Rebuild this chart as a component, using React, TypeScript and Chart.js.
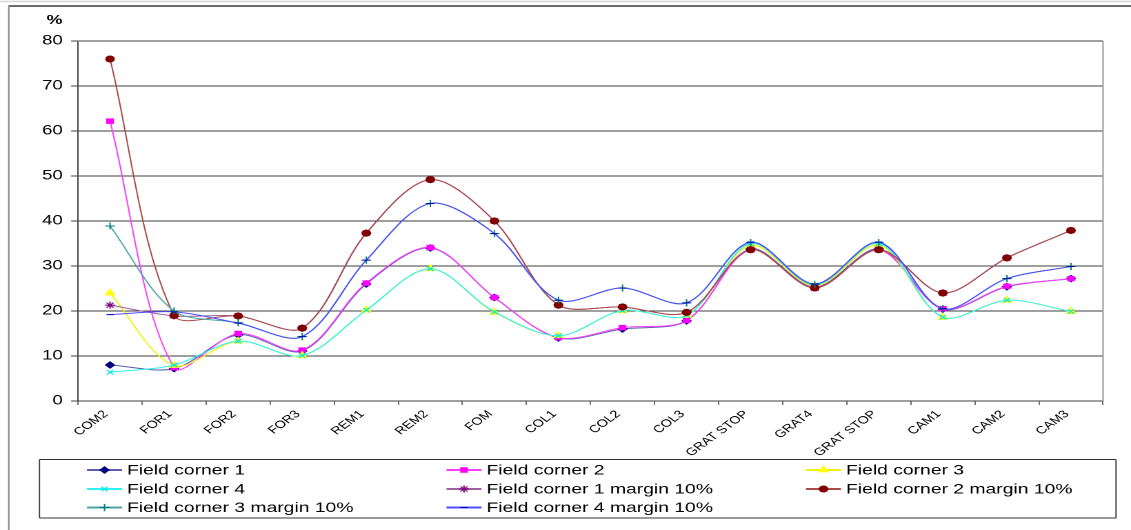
import React, { useEffect, useRef } from 'react';
import { Chart, registerables } from 'chart.js';
import { drawPoint } from 'chart.js/helpers';

Chart.register(...registerables);

// ---------------- data ----------------
const categories = ['COM2', 'FOR1', 'FOR2', 'FOR3', 'REM1', 'REM2', 'FOM', 'COL1', 'COL2', 'COL3', 'GRAT STOP', 'GRAT4', 'GRAT STOP', 'CAM1', 'CAM2', 'CAM3'];

const fieldCorner1 = [8.0, 7.2, 14.7, 11.1, 26.0, 34.0, 23.0, 14.0, 16.0, 17.8, 33.8, 25.3, 33.8, 20.4, 25.4, 27.2];
const fieldCorner2 = [62.2, 7.4, 15.0, 11.3, 26.2, 34.1, 23.0, 14.1, 16.3, 17.9, 33.6, 25.1, 33.6, 20.5, 25.5, 27.2];
const fieldCorner3 = [24.0, 7.9, 13.3, 10.1, 20.2, 29.4, 19.7, 14.5, 20.1, 19.0, 34.6, 25.6, 34.6, 18.6, 22.4, 19.9];
const fieldCorner4 = [6.4, 8.0, 13.3, 10.1, 20.2, 29.4, 19.8, 14.5, 20.1, 19.0, 35.0, 25.8, 35.0, 18.6, 22.4, 19.9];
const fieldCorner1Margin = [21.3, 18.9, 18.9, 16.2, 37.3, 49.2, 40.0, 21.3, 20.9, 19.7, 33.7, 25.2, 33.7, 24.0, 31.8, 37.9];
const fieldCorner2Margin = [76.0, 19.0, 18.9, 16.2, 37.3, 49.2, 40.0, 21.3, 20.9, 19.7, 33.6, 25.1, 33.6, 24.0, 31.8, 37.9];
const fieldCorner3Margin = [38.9, 20.0, 17.4, 14.3, 31.3, 43.9, 37.2, 22.4, 25.1, 21.8, 35.2, 25.9, 35.2, 20.5, 27.2, 29.9];
const fieldCorner4Margin = [19.2, 19.8, 17.3, 14.3, 31.3, 43.9, 37.2, 22.4, 25.1, 21.8, 35.3, 26.0, 35.3, 20.5, 27.2, 29.9];

const seriesLabels = [
  'Field corner 1', 'Field corner 2', 'Field corner 3',
  'Field corner 4', 'Field corner 1 margin 10%', 'Field corner 2 margin 10%',
  'Field corner 3 margin 10%', 'Field corner 4 margin 10%',
];
const seriesValues = [
  fieldCorner1, fieldCorner2, fieldCorner3, fieldCorner4,
  fieldCorner1Margin, fieldCorner2Margin, fieldCorner3Margin, fieldCorner4Margin,
];

const yMin = 0;
const yMax = 80;
const yStep = 10;
const yUnit = '%';

// ---------------- styles ----------------
const seriesStyles = [
  { line: '#5c5cae', mark: '#000080', style: 'rectRot', r: 3.2 },
  { line: '#ff3cff', mark: '#ff00ff', style: 'rect', r: 3.2 },
  { line: '#f2f200', mark: '#ffff00', style: 'triangle', r: 3.8 },
  { line: '#2ef2f2', mark: '#00e8e8', style: 'crossRot', r: 3.2 },
  { line: '#a060a0', mark: '#800080', style: 'star', r: 3.6 },
  { line: '#a84a4a', mark: '#800000', style: 'circle', r: 3 },
  { line: '#4aa6a6', mark: '#008080', style: 'cross', r: 3.6 },
  { line: '#4d4dff', mark: '#0000a0', style: 'line', r: 2.6 },
];

const W = 820;
const H = 530;
const CSSW = 1131;
const S = CSSW / W; // horizontal stretch of the whole picture
const FONT = '"Liberation Sans", Arial, Helvetica, sans-serif';

const PLOT_LEFT = 78 / S;
const PLOT_RIGHT = 1103 / S;
const PLOT_TOP = 41;
const PLOT_BOTTOM = 401;

const decorPlugin = {
  id: 'decor',
  beforeDraw(chart: any) {
    const ctx = chart.ctx as CanvasRenderingContext2D;
    ctx.save();
    ctx.fillStyle = '#ffffff';
    ctx.fillRect(0, 0, chart.width, chart.height);
    // outer frame lines
    ctx.strokeStyle = '#d6d6d6';
    ctx.lineWidth = 1.5;
    ctx.beginPath();
    ctx.moveTo(0, 1.5);
    ctx.lineTo(chart.width, 1.5);
    ctx.stroke();
    ctx.strokeStyle = '#3a3a3a';
    ctx.lineWidth = 1.5;
    ctx.beginPath();
    ctx.moveTo(8.5 / S, 6);
    ctx.lineTo(chart.width, 6);
    ctx.stroke();
    ctx.strokeStyle = '#8a8a8a';
    ctx.lineWidth = 1.5 / S;
    ctx.beginPath();
    ctx.moveTo(8.8 / S, 6);
    ctx.lineTo(8.8 / S, chart.height);
    ctx.stroke();
    ctx.restore();
  },
  beforeDatasetsDraw(chart: any) {
    const ctx = chart.ctx as CanvasRenderingContext2D;
    const a = chart.chartArea;
    ctx.save();
    ctx.strokeStyle = '#a0a0a0';
    ctx.lineWidth = 1;
    ctx.beginPath();
    ctx.moveTo(a.left, a.top + 0.5);
    ctx.lineTo(a.right, a.top + 0.5);
    ctx.stroke();
    ctx.lineWidth = 1.5 / S;
    ctx.beginPath();
    ctx.moveTo(a.right, a.top);
    ctx.lineTo(a.right, a.bottom);
    ctx.stroke();
    ctx.restore();
  },
  afterDraw(chart: any) {
    const ctx = chart.ctx as CanvasRenderingContext2D;
    ctx.save();
    // unit label
    ctx.fillStyle = '#000';
    ctx.font = `bold 13px ${FONT}`;
    ctx.textAlign = 'center';
    ctx.textBaseline = 'middle';
    ctx.fillText(yUnit, 54.5 / S, 20.5);

    // legend box
    const bx0 = 39.5 / S, bx1 = 1116 / S, by0 = 459.5, by1 = 518;
    ctx.strokeStyle = '#333';
    ctx.lineWidth = 1;
    ctx.beginPath();
    ctx.moveTo(bx0, by0); ctx.lineTo(bx1, by0);
    ctx.moveTo(bx0, by1); ctx.lineTo(bx1, by1);
    ctx.stroke();
    ctx.lineWidth = 1.2 / S;
    ctx.beginPath();
    ctx.moveTo(bx0, by0); ctx.lineTo(bx0, by1);
    ctx.moveTo(bx1, by0); ctx.lineTo(bx1, by1);
    ctx.stroke();

    const colX = [127 / S, 486.5 / S, 846 / S];
    const rowY = [470, 489, 507.5];
    chart.data.datasets.forEach((ds: any, i: number) => {
      const tx = colX[i % 3];
      const ty = rowY[Math.floor(i / 3)];
      const st = seriesStyles[i];
      // sample line
      ctx.strokeStyle = st.line;
      ctx.lineWidth = 2;
      ctx.beginPath();
      ctx.moveTo(tx - 40 / S, ty);
      ctx.lineTo(tx - 5 / S, ty);
      ctx.stroke();
      // marker
      ctx.fillStyle = st.mark;
      ctx.strokeStyle = st.mark;
      ctx.lineWidth = 1;
      drawPoint(ctx, { pointStyle: st.style, rotation: 0, radius: st.r, borderWidth: 1 } as any, tx - 22.5 / S, ty);
      // text
      ctx.fillStyle = '#000';
      ctx.font = `14px ${FONT}`;
      ctx.textAlign = 'left';
      ctx.textBaseline = 'middle';
      ctx.fillText(ds.label, tx, ty + 0.5);
    });
    ctx.restore();
  },
};

export default function App() {
  const ref = useRef<HTMLCanvasElement>(null);

  useEffect(() => {
    document.body.style.margin = '0';
    document.body.style.overflow = 'hidden';
    const canvas = ref.current!;
    const datasets = seriesValues.map((vals, i) => {
      const st = seriesStyles[i];
      return {
        label: seriesLabels[i],
        data: vals,
        borderColor: st.line,
        backgroundColor: st.mark,
        borderWidth: 1,
        tension: 0.32,
        fill: false,
        pointStyle: st.style as any,
        pointRadius: st.r,
        pointBackgroundColor: st.mark,
        pointBorderColor: st.mark,
        pointBorderWidth: 1,
        order: seriesValues.length - i,
      };
    });

    const chart = new Chart(canvas, {
      type: 'line',
      data: { labels: categories, datasets },
      plugins: [decorPlugin],
      options: {
        animation: false,
        responsive: false,
        maintainAspectRatio: false,
        devicePixelRatio: 2,
        events: [],
        layout: { padding: { top: PLOT_TOP, right: W - PLOT_RIGHT, bottom: 0, left: 0 } },
        plugins: {
          legend: { display: false },
          title: { display: false },
          tooltip: { enabled: false },
        },
        scales: {
          x: {
            type: 'category',
            offset: true,
            grid: {
              display: true,
              drawOnChartArea: false,
              drawTicks: true,
              tickLength: 4,
              color: '#404040',
              lineWidth: 1 / S,
              offset: true,
            },
            border: { display: true, color: '#404040', width: 1 },
            ticks: {
              autoSkip: false,
              minRotation: 45,
              maxRotation: 45,
              padding: 3,
              labelOffset: -3,
              color: '#000',
              font: { size: 10.5, family: FONT },
            },
            afterCalculateLabelRotation: (s: any) => { s.labelRotation = 45; },
            afterFit: (s: any) => { s.height = H - PLOT_BOTTOM; },
          },
          y: {
            min: yMin,
            max: yMax,
            grid: {
              color: '#404040',
              lineWidth: 1,
              drawTicks: true,
              tickLength: 5,
            },
            border: { display: true, color: '#404040', width: 1.3 / S },
            ticks: {
              stepSize: yStep,
              padding: 6,
              color: '#000',
              font: { size: 13.5, family: FONT },
            },
            afterFit: (s: any) => { s.width = PLOT_LEFT; },
          },
        },
      },
    } as any);
    return () => chart.destroy();
  }, []);

  return (
    <canvas
      ref={ref}
      width={W}
      height={H}
      style={{ display: 'block', width: `${CSSW}px`, height: `${H}px` }}
    />
  );
}
